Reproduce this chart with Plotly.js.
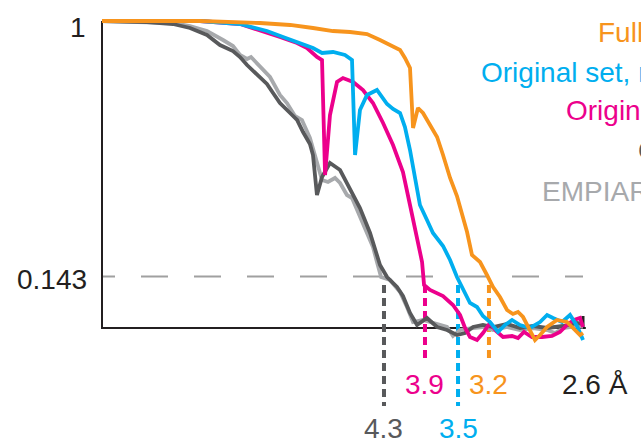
<!DOCTYPE html>
<html>
<head>
<meta charset="utf-8">
<script src="https://cdn.plot.ly/plotly-3.0.1.min.js"></script>
<style>
  html, body { margin: 0; padding: 0; background: #fff; overflow: hidden; }
  #chart { width: 641px; height: 444px; }
</style>
</head>
<body>
<div id="chart"></div>
<script>
// ---- Data: spatial frequency (1/Å) and FSC ----
const freqFull = [0.0200,0.0562,0.0939,0.1391,0.1617,0.1790,0.1941,0.2069,0.2197,0.2295,0.2393,0.2446,0.2483,0.2506,0.2521,0.2544,0.2581,0.2619,0.2672,0.2725,0.2770,0.2823,0.2875,0.2913,0.2951,0.2988,0.3049,0.3101,0.3147,0.3199,0.3252,0.3297,0.3335,0.3373,0.3425,0.3463,0.3501,0.3554,0.3629,0.3704,0.3749,0.3802,0.3825];
const fscFull  = [1.000,1.000,1.000,0.9933,0.9866,0.9765,0.9664,0.9631,0.9564,0.9362,0.9128,0.9027,0.8758,0.8591,0.8423,0.6409,0.7081,0.6913,0.6510,0.6107,0.5503,0.4732,0.4128,0.3490,0.2919,0.2148,0.1913,0.1477,0.1074,0.0738,0.0302,0.0168,0.0235,0.0067,-0.0369,-0.0705,-0.0537,-0.0268,-0.0034,-0.0101,-0.0302,-0.0537,-0.0470];

const freqOrigNew = [0.0200,0.0939,0.1240,0.1443,0.1564,0.1692,0.1790,0.1858,0.1941,0.2031,0.2084,0.2107,0.2144,0.2197,0.2272,0.2348,0.2393,0.2446,0.2483,0.2521,0.2559,0.2596,0.2649,0.2694,0.2770,0.2823,0.2875,0.2921,0.2973,0.3026,0.3071,0.3124,0.3184,0.3237,0.3290,0.3350,0.3425,0.3501,0.3554,0.3599,0.3667,0.3727,0.3780,0.3825];
const fscOrigNew  = [1.000,1.000,0.9899,0.9664,0.9463,0.9262,0.9094,0.8926,0.8960,0.8859,0.8691,0.5503,0.7013,0.7517,0.7685,0.7215,0.7047,0.6913,0.6443,0.5671,0.4664,0.3826,0.3322,0.2886,0.2450,0.1980,0.1409,0.0973,0.0537,0.0403,0.0101,-0.0101,-0.0436,-0.0201,-0.0034,-0.0201,-0.0302,-0.0101,0.0134,0.0034,-0.0101,0.0134,-0.0235,-0.0705];

const freqOrig = [0.0200,0.0939,0.1240,0.1413,0.1541,0.1670,0.1745,0.1820,0.1858,0.1881,0.1918,0.1971,0.2016,0.2092,0.2167,0.2242,0.2318,0.2393,0.2468,0.2521,0.2574,0.2612,0.2627,0.2672,0.2770,0.2845,0.2898,0.2936,0.2973,0.3026,0.3071,0.3124,0.3169,0.3222,0.3290,0.3335,0.3380,0.3440,0.3516,0.3591,0.3651,0.3704,0.3757,0.3802,0.3825];
const fscOrig  = [1.000,1.000,0.9899,0.9664,0.9463,0.9262,0.9094,0.8792,0.8691,0.4832,0.6846,0.7953,0.8087,0.7953,0.7685,0.7248,0.6577,0.5839,0.4933,0.3826,0.2718,0.1913,0.1141,0.0973,0.0772,0.0470,0.0134,-0.0302,-0.0604,-0.0705,-0.0470,-0.0134,-0.0403,-0.0604,-0.0570,-0.0638,-0.0436,-0.0604,-0.0604,-0.0570,-0.0436,-0.0201,-0.0034,0.0034,-0.0268];

const freqDark = [0.0200,0.0539,0.0735,0.0863,0.0991,0.1089,0.1187,0.1240,0.1293,0.1368,0.1443,0.1489,0.1541,0.1617,0.1670,0.1715,0.1767,0.1790,0.1805,0.1820,0.1858,0.1918,0.1994,0.2069,0.2144,0.2220,0.2295,0.2348,0.2423,0.2468,0.2521,0.2574,0.2649,0.2725,0.2800,0.2875,0.2936,0.2996,0.3071,0.3147,0.3252,0.3350,0.3448,0.3554,0.3674,0.3780,0.3825];
const fscDark  = [1.000,0.9966,0.9899,0.9765,0.9530,0.9195,0.8993,0.8792,0.8523,0.8188,0.7886,0.7584,0.7248,0.6913,0.6678,0.6275,0.5872,0.5503,0.4832,0.4161,0.4765,0.5235,0.5000,0.4329,0.3725,0.2886,0.1812,0.1409,0.1074,0.0772,0.0201,-0.0201,0.0034,-0.0268,-0.0369,-0.0537,-0.0470,-0.0268,-0.0201,-0.0268,-0.0168,-0.0302,-0.0235,-0.0302,-0.0235,-0.0134,-0.0168];

const freqEmpiar = [0.0200,0.0539,0.0735,0.0863,0.0991,0.1112,0.1187,0.1240,0.1293,0.1323,0.1368,0.1466,0.1541,0.1594,0.1654,0.1707,0.1767,0.1820,0.1858,0.1903,0.1956,0.1994,0.2046,0.2084,0.2144,0.2167,0.2242,0.2272,0.2303,0.2370,0.2446,0.2498,0.2544,0.2619,0.2694,0.2800,0.2845,0.2898,0.2996,0.3071,0.3147,0.3252,0.3350,0.3448,0.3554,0.3614,0.3674,0.3780,0.3825];
const fscEmpiar  = [1.000,0.9966,0.9933,0.9832,0.9664,0.9362,0.9161,0.8859,0.8725,0.8792,0.8591,0.8121,0.7517,0.7248,0.6812,0.6678,0.6074,0.5235,0.4664,0.4597,0.4732,0.4564,0.4161,0.4060,0.3423,0.3221,0.2416,0.1913,0.1409,0.1309,0.0906,0.0403,-0.0101,-0.0034,-0.0134,-0.0268,-0.0570,-0.0369,-0.0302,-0.0268,-0.0369,-0.0268,-0.0369,-0.0302,-0.0369,-0.0470,-0.0302,-0.0235,-0.0268];

const seriesNames = ['Full set', 'Original set, reprocessed', 'Original set', 'Original map', 'EMPIAR-10028'];
const seriesColors = ['#F7941D', '#00AEEF', '#EC008C', '#58595B', '#A7A9AC'];

const threshold = 0.143;
const yTickLabels = ['1', '0.143'];
const cutoffFreq = [0.2325, 0.2634, 0.2883, 0.3116];   // where curves cross 0.143
const cutoffLabels = ['4.3', '3.9', '3.5', '3.2'];
const cutoffColors = ['#58595B', '#EC008C', '#00AEEF', '#F7941D'];
const endLabel = '2.6 Å';
const endFreq = 0.3846;

// ---- layout helpers (pixel position -> axis / paper units; layout only) ----
const X = px => 0.02 + (px - 102) / 1327;
const Y = py => 1 - (py - 21) / 298;
const PX = px => (px - 95) / 546;
const PY = py => (410 - py) / 395;
const fToPx = f => 102 + (f - 0.02) * 1327;

const FONT = 'Liberation Sans, Arial, Helvetica, sans-serif';

function tr(x, y, i) {
  return { x: x, y: y, type: 'scatter', mode: 'lines', name: seriesNames[i],
           line: { color: seriesColors[i], width: 3.8, shape: 'linear' }, hoverinfo: 'skip' };
}
const traces = [
  tr(freqEmpiar, fscEmpiar, 4),
  tr(freqDark, fscDark, 3),
  tr(freqOrig, fscOrig, 2),
  tr(freqOrigNew, fscOrigNew, 1),
  tr(freqFull, fscFull, 0)
];

let hdash = '13px,26px';
for (let i = 0; i < 12; i++) hdash += ',27px,26px';

const shapes = [
  { type: 'line', xref: 'x', yref: 'y', x0: X(102), x1: X(583), y0: threshold, y1: threshold,
    line: { color: '#A0A0A0', width: 2, dash: hdash }, layer: 'below' },
  { type: 'line', xref: 'x', yref: 'y', x0: X(102), x1: X(102), y0: 1, y1: Y(329),
    line: { color: '#231F20', width: 2 }, layer: 'below' },
  { type: 'line', xref: 'x', yref: 'y', x0: X(101), x1: endFreq, y0: Y(328), y1: Y(328),
    line: { color: '#231F20', width: 2 }, layer: 'below' },
  { type: 'line', xref: 'x', yref: 'y', x0: X(583), x1: X(583), y0: Y(328), y1: Y(316),
    line: { color: '#231F20', width: 3 }, layer: 'below' }
];
const dashBottoms = [Y(406), Y(361), Y(406), Y(361)];
cutoffFreq.forEach((f, i) => {
  shapes.push({ type: 'line', xref: 'x', yref: 'y', x0: f, x1: f, y0: Y(285), y1: dashBottoms[i],
    line: { color: cutoffColors[i], width: 4, dash: '8px,5px' }, layer: 'below' });
});

const annotations = [
  { text: yTickLabels[0], x: PX(88), y: PY(27), xanchor: 'right', yanchor: 'middle', font: { color: '#231F20' } },
  { text: yTickLabels[1], x: PX(89), y: PY(279), xanchor: 'right', yanchor: 'middle', font: { color: '#231F20' } },
  { text: endLabel, x: PX(560), y: PY(384), xanchor: 'left', yanchor: 'middle', font: { color: '#231F20' } }
];
const labelPy = [428, 384, 428, 384];
cutoffFreq.forEach((f, i) => {
  annotations.push({ text: cutoffLabels[i], x: PX(fToPx(f)), y: PY(labelPy[i]), xanchor: 'center', yanchor: 'middle',
    font: { color: cutoffColors[i] } });
});
const legendPos = [[596, 32], [479, 72], [564, 111], [636, 150], [540, 192]];
seriesNames.forEach((n, i) => {
  annotations.push({ text: n, x: PX(legendPos[i][0]), y: PY(legendPos[i][1]), xanchor: 'left', yanchor: 'middle',
    font: { color: seriesColors[i] } });
});
annotations.forEach(a => { a.xref = 'paper'; a.yref = 'paper'; a.showarrow = false;
  a.font = Object.assign({ family: FONT, size: 28 }, a.font); });

const layout = {
  width: 641, height: 444,
  margin: { l: 95, r: 0, t: 15, b: 34, pad: 0 },
  paper_bgcolor: '#ffffff', plot_bgcolor: '#ffffff',
  showlegend: false,
  xaxis: { range: [X(95), X(641)], visible: false, fixedrange: true },
  yaxis: { range: [Y(410), Y(15)], visible: false, fixedrange: true },
  shapes: shapes,
  annotations: annotations,
  font: { family: FONT }
};

Plotly.newPlot('chart', traces, layout, { staticPlot: true, displayModeBar: false });
</script>
</body>
</html>
